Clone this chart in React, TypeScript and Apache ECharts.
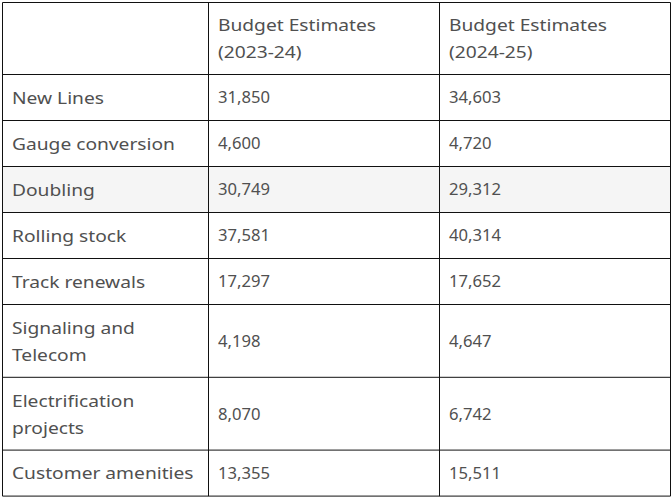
import React, { useEffect, useRef } from "react";
import * as echarts from "echarts";

const headerLabels = ["", "Budget Estimates\n(2023-24)", "Budget Estimates\n(2024-25)"];
const categories = [
  "New Lines",
  "Gauge conversion",
  "Doubling",
  "Rolling stock",
  "Track renewals",
  "Signaling and\nTelecom",
  "Electrification\nprojects",
  "Customer amenities",
];
const be2023 = [31850, 4600, 30749, 37581, 17297, 4198, 8070, 13355];
const be2024 = [34603, 4720, 29312, 40314, 17652, 4647, 6742, 15511];
const highlightRow = 2;

const COL_X = [2.5, 208.5, 439.5, 670.5];
const TOP = 2.5;
const HEADER_H = 72;
const ROW_H1 = 46;
const ROW_H2 = 72.8;
const PAD = 9.5;
const FONT = '16px "Noto Sans", sans-serif';
const TEXT_COLOR = "#505050";
const LINE_H = 27;
const SCALE_WORDS = 1.2;
const SCALE_NUMS = 1.04;

function rowHeight(label: string) {
  return label.includes("\n") ? ROW_H2 : ROW_H1;
}

const rowTops: number[] = [];
{
  let y = TOP + HEADER_H;
  categories.forEach((c) => {
    rowTops.push(y);
    y += rowHeight(c);
  });
}
const tableBottom = rowTops[rowTops.length - 1] + rowHeight(categories[categories.length - 1]);

const fmt = (v: number) => v.toLocaleString("en-US");

export default function App() {
  const ref = useRef<HTMLDivElement>(null);
  useEffect(() => {
    if (!ref.current) return;
    const chart = echarts.init(ref.current, undefined, { renderer: "svg" });

    const rows = [
      { cells: headerLabels, top: TOP, h: HEADER_H, bg: "#ffffff", header: true },
      ...categories.map((c, i) => ({
        cells: [c, fmt(be2023[i]), fmt(be2024[i])],
        top: rowTops[i],
        h: rowHeight(c),
        bg: i === highlightRow ? "#f5f5f5" : "#ffffff",
        header: false,
      })),
    ];

    const hLines = [TOP, ...rows.slice(1).map((r) => r.top), tableBottom];

    chart.setOption({
      animation: false,
      backgroundColor: "#ffffff",
      series: [
        {
          type: "custom",
          coordinateSystem: "none",
          data: rows.map((_, i) => [i]),
          renderItem: (params: any, api: any) => {
            const r = rows[api.value(0)];
            const children: any[] = [
              {
                type: "rect",
                shape: { x: COL_X[0], y: r.top, width: COL_X[3] - COL_X[0], height: r.h },
                style: { fill: r.bg },
              },
            ];
            r.cells.forEach((t: string, j: number) => {
              if (!t) return;
              const isNum = !r.header && j > 0;
              children.push({
                type: "text",
                x: COL_X[j] + PAD,
                y: r.top + r.h / 2,
                scaleX: isNum ? SCALE_NUMS : SCALE_WORDS,
                style: {
                  text: t,
                  x: 0,
                  y: 0,
                  verticalAlign: "middle",
                  align: "left",
                  font: FONT,
                  fill: TEXT_COLOR,
                  lineHeight: LINE_H,
                },
              });
            });
            return { type: "group", children };
          },
        },
      ],
      graphic: [
        ...hLines.map((y) => ({
          type: "line",
          z: 100,
          shape: { x1: COL_X[0], y1: y, x2: COL_X[3], y2: y },
          style: { stroke: "#111111", lineWidth: 1 },
        })),
        ...COL_X.map((x) => ({
          type: "line",
          z: 100,
          shape: { x1: x, y1: TOP, x2: x, y2: tableBottom },
          style: { stroke: "#111111", lineWidth: 1 },
        })),
      ],
    });
    return () => chart.dispose();
  }, []);
  return (
    <div
      ref={ref}
      style={{ position: "absolute", left: 0, top: 0, width: 672, height: 497 }}
    />
  );
}
